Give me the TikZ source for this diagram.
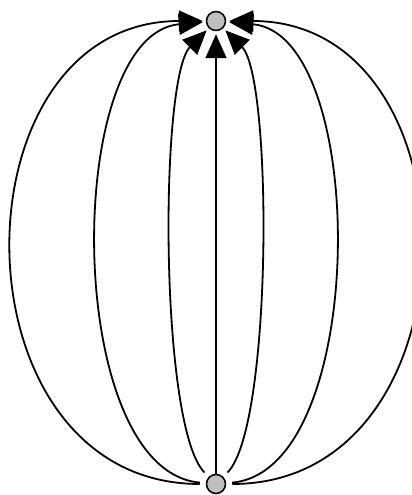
\documentclass[tikz,border=0pt]{standalone}
\usepackage{tikz}
\usetikzlibrary{arrows.meta,positioning}

\begin{document}
\begin{tikzpicture}[
    x=1pt, y=-1pt,
    vertex/.style={circle, draw, line width=1.5pt, fill=black!25,
                minimum size=19pt, inner sep=0pt},
    arr/.style={-{Triangle[length=24pt, width=21pt]}, line width=1.8pt,
                shorten >=3pt},
    curved/.style={arr, shorten <=6pt}
  ]
    \useasboundingbox (0,0) rectangle (412,495);

    % The two vertices
    \node[vertex] (top)    at (216, 21)  {};
    \node[vertex] (bottom) at (216, 484) {};

    % Straight edge
    \draw[arr] (bottom) -- (top);

    % Edges bending to the left
    \draw[curved] (bottom) to[bend left=45, looseness=0.4] (top);
    \draw[curved] (bottom) to[bend left=85, looseness=0.8] (top);
    \draw[curved] (bottom) to[bend left=90, looseness=1.42] (top);

    % Edges bending to the right
    \draw[curved] (bottom) to[bend right=45, looseness=0.4] (top);
    \draw[curved] (bottom) to[bend right=85, looseness=0.8] (top);
    \draw[curved] (bottom) to[bend right=90, looseness=1.42] (top);
  \end{tikzpicture}
\end{document}
